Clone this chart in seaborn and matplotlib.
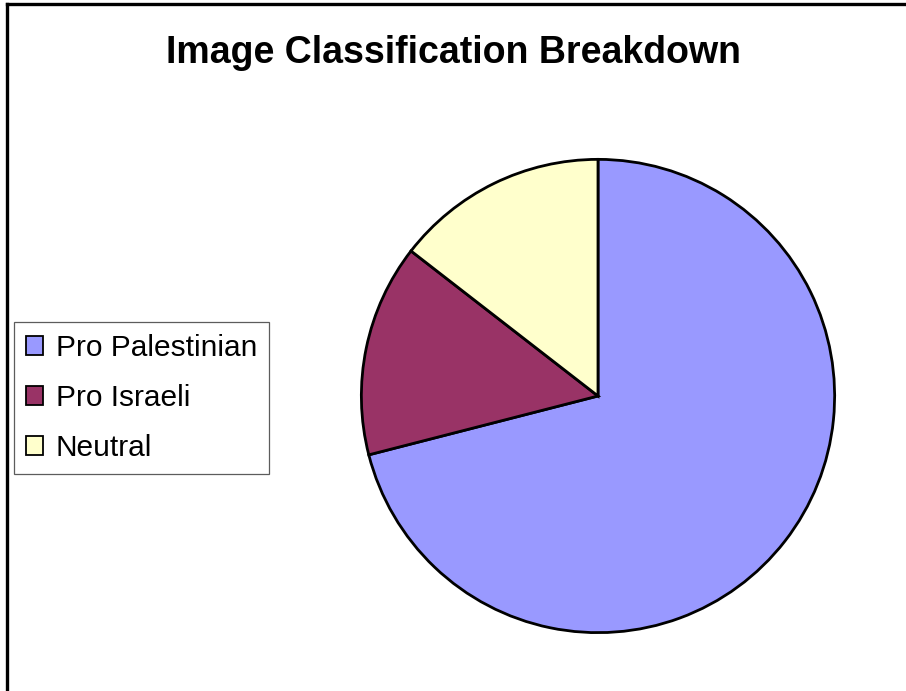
import matplotlib
matplotlib.use("Agg")
import matplotlib.pyplot as plt
from matplotlib.lines import Line2D
from matplotlib.patches import Patch
import seaborn as sns

# Share of classified images per category (percent)
categories = ["Pro Palestinian", "Pro Israeli", "Neutral"]
shares = [71.0, 14.5, 14.5]
slice_colors = ["#9999FF", "#993366", "#FFFFCC"]
title = "Image Classification Breakdown"

sns.set_theme(style="white")
plt.rcParams["font.family"] = ["Liberation Sans", "DejaVu Sans"]
plt.rcParams["text.color"] = "black"

W, H = 906, 691
fig = plt.figure(figsize=(W / 100, H / 100), dpi=100)
fig.patch.set_facecolor("white")

# Pie axes placed in pixel terms: square box around the circle
cx, cy, r = 598, 396, 239
ax = fig.add_axes([(cx - r) / W, (H - (cy + r)) / H, 2 * r / W, 2 * r / H])
palette = sns.color_palette(slice_colors)
wedges, _ = ax.pie(
    shares,
    colors=palette,
    startangle=90,
    counterclock=False,
    radius=1.0,
    wedgeprops=dict(edgecolor="black", linewidth=2.0),
)
ax.set_xlim(-1.01, 1.01)
ax.set_ylim(-1.01, 1.01)
ax.set_axis_off()

# Title
fig.text(453 / W, 1 - 53 / H, title, ha="center", va="center",
         fontsize=27, fontweight="bold", color="black")

# Legend with square swatches
handles = [Patch(facecolor=c, edgecolor="black", linewidth=1.3) for c in palette]
leg = fig.legend(
    handles, categories,
    loc="upper left", bbox_to_anchor=(14 / W, 1 - 322 / H),
    bbox_transform=fig.transFigure, borderaxespad=0,
    fontsize=21.5, frameon=True, fancybox=False, shadow=False,
    handlelength=0.58, handleheight=0.58, handletextpad=0.42,
    labelspacing=0.74, borderpad=0.40, labelcolor="black",
)
frame = leg.get_frame()
frame.set_edgecolor("#333333")
frame.set_linewidth(0.9)
frame.set_facecolor("white")

# Outer chart frame (top and left edges visible)
fig.add_artist(Line2D([7 / W, 1.0], [1 - 4 / H, 1 - 4 / H],
                      transform=fig.transFigure, color="black", linewidth=2.4,
                      solid_capstyle="projecting"))
fig.add_artist(Line2D([7 / W, 7 / W], [0.0, 1 - 4 / H],
                      transform=fig.transFigure, color="black", linewidth=2.4,
                      solid_capstyle="projecting"))

fig.savefig("out.png", dpi=100, facecolor="white")
